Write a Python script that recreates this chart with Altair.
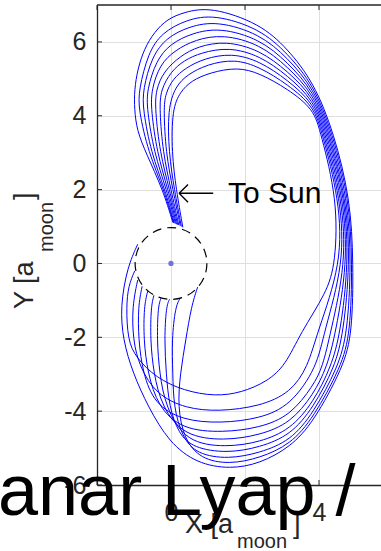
import altair as alt
import pandas as pd

# ---------------- data ----------------
X_TICKS = [-2, 0, 2, 4]
Y_TICKS = [-6, -4, -2, 0, 2, 4, 6]
X_DOMAIN = [-2, 5.676]
Y_DOMAIN = [-6, 7]
X_LABELED = [0, 4]

ORBIT_01 = [(-0.98, -0.2), (-1.15, -0.6), (-1.21, -1.16), (-1.17, -2.07), (-0.95, -2.55), (-0.4, -3.1),
            (0.35, -3.45), (1.2, -3.6), (1.9, -3.5), (2.6, -3.2), (3.1, -2.75), (3.5, -1.88), (4.2, -0.8),
            (4.45, 0.0), (4.5, 1.74), (4.04, 3.55), (3.86, 4.18), (3.15, 4.73), (2.4, 5.15), (1.8, 5.32),
            (1.05, 5.17), (0.55, 4.95), (0.25, 4.65), (0.03, 4.18), (0.02, 3.0), (0.14, 2.0), (0.32, 0.98)]
ORBIT_02 = [(-0.9, -0.45), (-1.05, -1.16), (-1.03, -2.07), (-0.85, -2.8), (-0.4, -3.55), (0.4, -3.93),
            (1.3, -4.01), (2.4, -3.87), (3.23, -3.5), (3.7, -2.8), (3.95, -1.88), (4.62, 0.0), (4.55, 1.74),
            (4.08, 3.55), (3.86, 4.26), (3.15, 4.85), (2.4, 5.32), (1.72, 5.54), (0.97, 5.39), (0.45, 5.12),
            (0.12, 4.8), (-0.09, 4.18), (-0.06, 3.0), (0.09, 2.0), (0.28, 1.0)]
ORBIT_03 = [(-0.78, -0.62), (-0.89, -1.16), (-0.88, -2.07), (-0.76, -2.97), (-0.45, -3.8), (0.3, -4.25),
            (1.35, -4.33), (2.4, -4.2), (3.23, -3.85), (3.95, -2.8), (4.13, -1.88), (4.68, 0.0), (4.59, 1.74),
            (4.12, 3.55), (3.86, 4.34), (3.15, 4.97), (2.4, 5.48), (1.64, 5.7), (0.89, 5.55), (0.4, 5.3),
            (0.05, 5.0), (-0.15, 4.6), (-0.2, 4.18), (-0.14, 3.0), (0.05, 2.0), (0.25, 1.02)]
ORBIT_04 = [(-0.63, -0.75), (-0.73, -1.16), (-0.74, -2.07), (-0.63, -2.97), (-0.35, -3.88), (0.3, -4.5),
            (1.4, -4.58), (2.4, -4.45), (3.23, -4.12), (3.85, -3.3), (4.1, -2.8), (4.31, -1.88), (4.73, 0.0),
            (4.63, 1.74), (4.16, 3.55), (3.86, 4.42), (3.15, 5.09), (2.4, 5.63), (1.56, 5.86), (0.81, 5.71),
            (0.35, 5.5), (0.0, 5.2), (-0.28, 4.7), (-0.31, 4.18), (-0.22, 3.0), (0.0, 2.0), (0.21, 1.04)]
ORBIT_05 = [(-0.46, -0.86), (-0.54, -1.16), (-0.56, -2.07), (-0.47, -2.97), (-0.25, -3.88), (0.35, -4.68),
            (1.45, -4.8), (2.4, -4.65), (3.23, -4.32), (3.85, -3.55), (4.22, -2.8), (4.45, -1.88), (4.77, 0.0),
            (4.67, 1.74), (4.2, 3.55), (3.86, 4.5), (3.15, 5.21), (2.4, 5.78), (1.48, 6.03), (0.73, 5.88),
            (0.25, 5.62), (-0.2, 5.2), (-0.41, 4.7), (-0.43, 4.18), (-0.3, 3.0), (-0.04, 2.0), (0.18, 1.05)]
ORBIT_06 = [(-0.27, -0.94), (-0.35, -1.16), (-0.38, -2.07), (-0.31, -2.97), (-0.15, -3.88), (0.4, -4.85),
            (1.5, -4.98), (2.4, -4.84), (3.23, -4.5), (3.85, -3.75), (4.33, -2.8), (4.58, -1.88), (4.8, 0.0),
            (4.71, 1.74), (4.24, 3.55), (3.86, 4.58), (3.15, 5.33), (2.4, 5.94), (1.4, 6.21), (0.65, 6.06),
            (0.12, 5.78), (-0.3, 5.4), (-0.53, 4.7), (-0.54, 4.18), (-0.38, 3.0), (-0.08, 2.0), (0.15, 1.06)]
ORBIT_07 = [(-0.04, -0.97), (-0.13, -1.16), (-0.18, -2.07), (-0.13, -2.97), (-0.05, -3.88), (0.2, -4.6),
            (0.6, -5.0), (1.52, -5.14), (2.4, -4.98), (3.23, -4.65), (3.85, -3.9), (4.43, -2.8), (4.66, -1.88),
            (4.84, 0.0), (4.74, 1.74), (4.28, 3.55), (3.86, 4.66), (3.15, 5.45), (2.4, 6.08), (1.32, 6.39),
            (0.57, 6.24), (-0.02, 5.95), (-0.4, 5.5), (-0.65, 4.7), (-0.65, 4.18), (-0.46, 3.0), (-0.12, 2.0),
            (0.12, 1.08)]
ORBIT_08 = [(0.25, -0.94), (0.12, -1.16), (0.02, -2.07), (0.05, -2.97), (0.07, -3.88), (0.3, -4.7),
            (0.7, -5.17), (1.55, -5.3), (2.4, -5.13), (3.23, -4.8), (3.85, -4.05), (4.52, -2.8), (4.77, -1.88),
            (4.87, 0.0), (4.78, 1.74), (4.32, 3.55), (3.86, 4.74), (3.15, 5.57), (2.4, 6.22), (1.24, 6.57),
            (0.49, 6.42), (-0.12, 6.12), (-0.52, 5.6), (-0.76, 4.7), (-0.76, 4.18), (-0.54, 3.0), (-0.16, 2.0),
            (0.09, 1.09)]
ORBIT_09 = [(0.72, -0.64), (0.55, -1.16), (0.4, -2.07), (0.25, -2.97), (0.18, -3.88), (0.35, -4.75),
            (0.8, -5.3), (1.58, -5.44), (2.4, -5.27), (3.23, -4.9), (3.85, -4.18), (4.6, -2.8), (4.85, -1.88),
            (4.9, 0.0), (4.82, 1.74), (4.36, 3.55), (3.86, 4.82), (3.15, 5.69), (2.4, 6.36), (1.16, 6.75),
            (0.41, 6.6), (-0.25, 6.25), (-0.62, 5.7), (-0.87, 4.7), (-0.88, 4.18), (-0.61, 3.0), (-0.19, 2.0),
            (0.07, 1.1)]
ORBIT_10 = [(-0.9, 0.52), (-1.18, -0.1), (-1.37, -1.16), (-1.3, -2.07), (-1.03, -2.97), (-0.62, -3.88),
            (-0.05, -4.85), (0.7, -5.42), (1.6, -5.57), (2.4, -5.42), (3.23, -4.97), (3.85, -4.3), (4.66, -2.8),
            (4.9, -1.88), (4.93, 0.0), (4.85, 1.74), (4.4, 3.55), (3.86, 4.9), (3.15, 5.82), (2.4, 6.5),
            (1.08, 6.95), (0.36, 6.81), (-0.1, 6.62), (-0.45, 6.27), (-0.72, 5.82), (-0.9, 5.27), (-0.99, 4.7),
            (-0.99, 4.18), (-0.92, 3.6), (-0.68, 3.0), (-0.22, 2.0), (0.05, 1.11)]
ORBITS = [ORBIT_01, ORBIT_02, ORBIT_03, ORBIT_04, ORBIT_05,
          ORBIT_06, ORBIT_07, ORBIT_08, ORBIT_09, ORBIT_10]

MOON = [(0.0, 0.0)]
MOON_ZONE_RADIUS = 0.97
ARROW = [((1.14, 1.9), (0.22, 1.9)), ((0.22, 1.9), (0.46, 2.14)), ((0.22, 1.9), (0.46, 1.66))]

TITLE_FRAGMENT = "anar Lyap /"
ANNOTATION = "To Sun"

# ---------------- layout ----------------
W, H = 284, 480
PX_PER_UNIT = W / (X_DOMAIN[1] - X_DOMAIN[0])
FONT = "Liberation Sans"
AX = "#262626"

rows = []
for k, orb in enumerate(ORBITS):
    for i, (x, y) in enumerate(orb):
        rows.append({"orbit": k, "i": i, "x": x, "y": y})
orbit_df = pd.DataFrame(rows)

xs = alt.Scale(domain=X_DOMAIN, nice=False, zero=False)
ys = alt.Scale(domain=Y_DOMAIN, nice=False, zero=False)
x_axis = alt.Axis(values=X_TICKS, title=None, grid=True, gridColor="#dfdfdf", gridWidth=1,
                  ticks=False, domain=True, domainColor=AX, domainWidth=1.3,
                  labelFontSize=25, labelFont=FONT, labelColor=AX, labelPadding=15,
                  labelFlush=False, labelOverlap=False,
                  labelExpr="indexof([" + ",".join(str(v) for v in X_LABELED) + "], datum.value) >= 0 ? '' + datum.value : ''")
y_axis = alt.Axis(values=Y_TICKS, title=None, grid=True, gridColor="#dfdfdf", gridWidth=1,
                  ticks=False, domain=True, domainColor=AX, domainWidth=1.3,
                  labelFontSize=25, labelFont=FONT, labelColor=AX, labelPadding=11,
                  labelFlush=False, labelOverlap=False, labelExpr="'' + datum.value")

orbits = alt.Chart(orbit_df).mark_line(color="#0000ff", strokeWidth=1, interpolate="basis").encode(
    x=alt.X("x:Q", scale=xs, axis=x_axis),
    y=alt.Y("y:Q", scale=ys, axis=y_axis),
    detail="orbit:N",
    order="i:Q",
)

moon_df = pd.DataFrame(MOON, columns=["x", "y"])
diam = 2 * MOON_ZONE_RADIUS * PX_PER_UNIT
zone = alt.Chart(moon_df).mark_point(shape="circle", filled=False, size=diam * diam, stroke="black",
                                     strokeWidth=1.2, strokeDash=[9, 6], opacity=1).encode(
    x=alt.X("x:Q", scale=xs, axis=x_axis), y=alt.Y("y:Q", scale=ys, axis=y_axis))
dot = alt.Chart(moon_df).mark_point(shape="circle", filled=True, size=28, color="#7373d6", opacity=1).encode(
    x=alt.X("x:Q", scale=xs, axis=x_axis), y=alt.Y("y:Q", scale=ys, axis=y_axis))

arrow_df = pd.DataFrame([{"x": a[0], "y": a[1], "x2": b[0], "y2": b[1]} for a, b in ARROW])
arrow = alt.Chart(arrow_df).mark_rule(color="black", strokeWidth=1.4).encode(
    x=alt.X("x:Q", scale=xs, axis=x_axis), y=alt.Y("y:Q", scale=ys, axis=y_axis),
    x2="x2:Q", y2="y2:Q")

ytick_df = pd.DataFrame({"v": Y_TICKS})
xtick_df = pd.DataFrame({"v": X_TICKS})
left_ticks = alt.Chart(ytick_df).mark_rule(color=AX, strokeWidth=1).encode(
    y=alt.Y("v:Q", scale=ys, axis=y_axis), x=alt.value(0), x2=alt.value(5))
bottom_ticks = alt.Chart(xtick_df).mark_rule(color=AX, strokeWidth=1).encode(
    x=alt.X("v:Q", scale=xs, axis=x_axis), y=alt.value(H), y2=alt.value(H - 5))
top_ticks = alt.Chart(xtick_df).mark_rule(color=AX, strokeWidth=1).encode(
    x=alt.X("v:Q", scale=xs, axis=x_axis), y=alt.value(0), y2=alt.value(5))

one = alt.Data(values=[{}])
top_border = alt.Chart(one).mark_rule(color=AX, strokeWidth=1.5).encode(
    x=alt.value(0), x2=alt.value(W), y=alt.value(0))


def label(txt, x, y, size, color=AX, angle=0):
    m = dict(text=txt, font=FONT, fontSize=size, color=color, align="left", baseline="alphabetic")
    if angle:
        m["angle"] = angle
    return alt.Chart(one).mark_text(**m).encode(x=alt.value(x), y=alt.value(y))


texts = [
    label(ANNOTATION, 131, 198, 30, color="black"),
    label("Y [a", -64, 304, 27, angle=270),
    label("moon", -44, 247, 20, angle=270),
    label("]", -64, 195, 27, angle=270),
    label("X [a", 88, 528, 27),
    label("moon", 140, 543, 20),
    label("]", 196, 528, 27),
    label(TITLE_FRAGMENT, -99, 510, 72, color="black"),
]

chart = alt.layer(
    orbits, zone, dot, arrow, left_ticks, bottom_ticks, top_ticks, top_border, *texts
).properties(
    width=W, height=H,
    autosize=alt.AutoSizeParams(type="none"),
    padding={"left": 97, "top": 5, "right": 0, "bottom": 66},
    background="white",
).configure_view(stroke=None)

chart.save("out.html", embed_options={"renderer": "svg", "actions": False})
